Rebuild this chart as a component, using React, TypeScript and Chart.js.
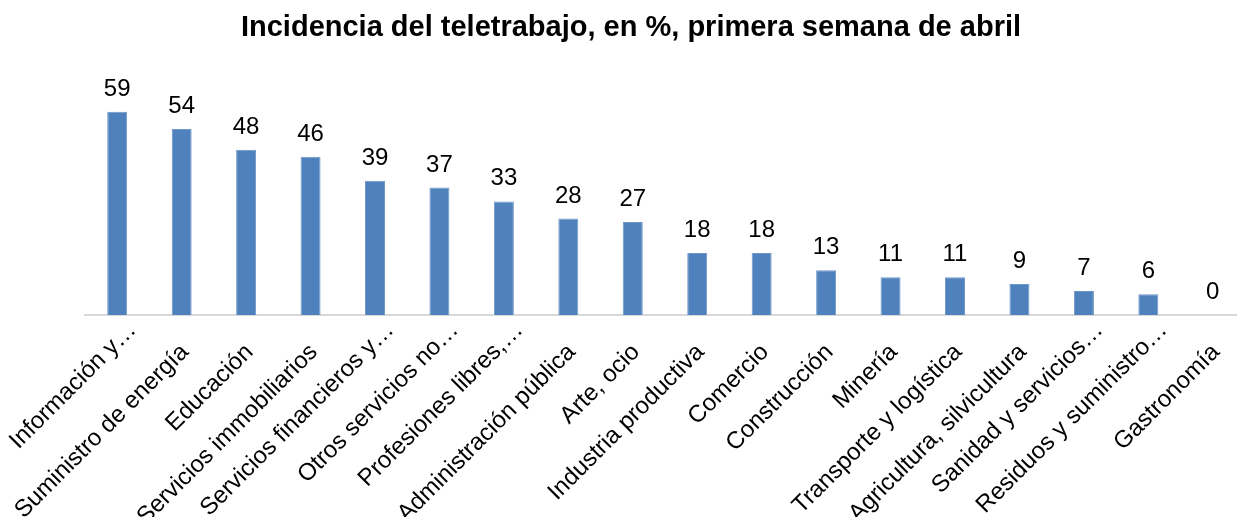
import React, { useEffect, useRef } from "react";
import { Chart, registerables } from "chart.js";

Chart.register(...registerables);

const TITLE = "Incidencia del teletrabajo, en %, primera semana de abril";

const categories = [
  "Información y…",
  "Suministro de energía",
  "Educación",
  "Servicios immobiliarios",
  "Servicios financieros y…",
  "Otros servicios no…",
  "Profesiones libres,…",
  "Administración pública",
  "Arte, ocio",
  "Industria productiva",
  "Comercio",
  "Construcción",
  "Minería",
  "Transporte y logística",
  "Agricultura, silvicultura",
  "Sanidad y servicios…",
  "Residuos y suministro…",
  "Gastronomía",
];

const values = [59, 54, 48, 46, 39, 37, 33, 28, 27, 18, 18, 13, 11, 11, 9, 7, 6, 0];

const FONT = "'Liberation Sans', Arial, sans-serif";

const titlePlugin = {
  id: "customTitle",
  afterDraw(chart: any) {
    const ctx = chart.ctx;
    ctx.save();
    ctx.font = `bold 29px ${FONT}`;
    ctx.fillStyle = "#000";
    ctx.textAlign = "center";
    ctx.textBaseline = "alphabetic";
    ctx.fillText(TITLE, 631, 36);
    ctx.restore();
  },
};

const labelPlugin = {
  id: "valueLabels",
  afterDatasetsDraw(chart: any) {
    const ctx = chart.ctx;
    const meta = chart.getDatasetMeta(0);
    ctx.save();
    ctx.font = `24px ${FONT}`;
    ctx.fillStyle = "#000";
    ctx.textAlign = "center";
    ctx.textBaseline = "alphabetic";
    meta.data.forEach((bar: any, i: number) => {
      ctx.fillText(String(values[i]), bar.x, bar.y - 16);
    });
    ctx.restore();
  },
};

// Rotated category labels, anchored at their end to each tick of the x scale
const categoryLabelPlugin = {
  id: "categoryLabels",
  afterDraw(chart: any) {
    const ctx = chart.ctx;
    const xs = chart.scales.x;
    const axisY = xs.top;
    ctx.save();
    ctx.font = `24px ${FONT}`;
    ctx.fillStyle = "#000";
    ctx.textAlign = "right";
    ctx.textBaseline = "alphabetic";
    categories.forEach((text, i) => {
      const tx = xs.getPixelForTick(i);
      const truncated = text.endsWith("…");
      const ex = tx + (truncated ? 20 : 8);
      const ey = axisY + (truncated ? 16 : 38);
      ctx.save();
      ctx.translate(ex, ey);
      ctx.rotate(-Math.PI / 4);
      ctx.fillText(text, 0, 0);
      ctx.restore();
    });
    ctx.restore();
  },
};

export default function App() {
  const ref = useRef<HTMLCanvasElement>(null);
  useEffect(() => {
    if (!ref.current) return;
    const chart = new Chart(ref.current, {
      type: "bar",
      data: {
        labels: categories,
        datasets: [
          {
            data: values,
            backgroundColor: "#4F81BD",
            borderColor: "#6F97CA",
            borderWidth: 1,
            categoryPercentage: 1,
            barPercentage: 0.31,
          },
        ],
      },
      options: {
        responsive: false,
        animation: false,
        layout: { padding: { left: 85, right: 1, top: 74, bottom: 0 } },
        plugins: {
          legend: { display: false },
          title: { display: false },
          tooltip: { enabled: false },
        },
        scales: {
          x: {
            grid: { display: false, drawTicks: false },
            border: { display: true, color: "#D9D9D9", width: 2 },
            ticks: {
              display: false,
              autoSkip: false,
            },
            afterFit(scale: any) {
              scale.height = 202;
              scale.paddingLeft = 0;
              scale.paddingRight = 0;
            },
          },
          y: {
            display: false,
            min: 0,
            max: 70,
          },
        },
      },
      plugins: [titlePlugin, labelPlugin, categoryLabelPlugin],
    });
    return () => chart.destroy();
  }, []);
  return (
    <div
      style={{
        position: "absolute",
        left: 0,
        top: 0,
        width: 1237,
        height: 517,
        overflow: "hidden",
        background: "#fff",
      }}
    >
      <canvas ref={ref} width={1246} height={517} style={{ display: "block" }} />
    </div>
  );
}
